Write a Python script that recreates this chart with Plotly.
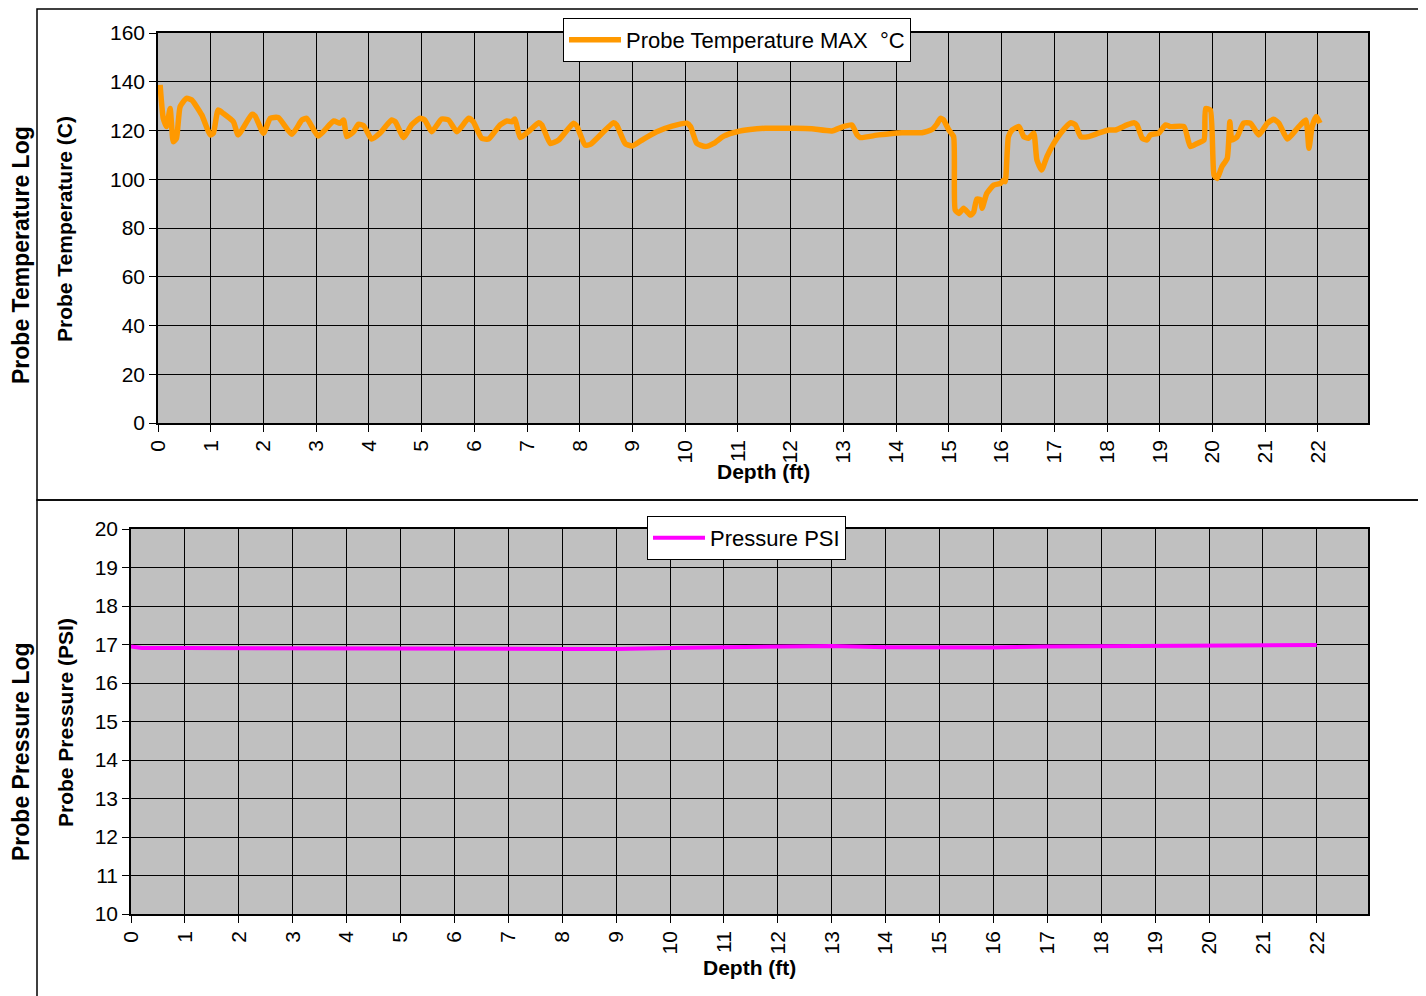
import plotly.graph_objects as go

W, H = 1426, 996
OFF = 8  # page body margin in the browser

# ---------------- data ----------------
temp_depth = [0.04, 0.1, 0.16, 0.23, 0.26, 0.29, 0.35, 0.42, 0.54, 0.64, 0.83, 0.99, 1.05, 1.14, 1.24,
              1.43, 1.52, 1.78, 1.84, 2.0, 2.13, 2.28, 2.54, 2.73, 2.82, 3.04, 3.33, 3.45, 3.52, 3.58,
              3.71, 3.80, 3.9, 4.05, 4.21, 4.43, 4.5, 4.66, 4.81, 4.97, 5.06, 5.19, 5.38, 5.51, 5.67,
              5.89, 5.98, 6.14, 6.27, 6.49, 6.62, 6.71, 6.77, 6.87, 7.06, 7.22, 7.28, 7.44, 7.60, 7.88,
              7.94, 8.10, 8.2, 8.64, 8.70, 8.86, 8.99, 9.21, 9.46, 9.75, 10.03, 10.1, 10.22, 10.38, 10.54,
              10.73, 10.98, 11.23, 11.52, 12.09, 12.40, 12.78, 13.0, 13.16, 13.26, 13.32, 13.67, 14.11,
              14.49, 14.68, 14.77, 14.84, 14.9, 15.0, 15.09, 15.12, 15.19, 15.28, 15.41, 15.47, 15.53,
              15.6, 15.63, 15.72, 15.85, 15.98, 16.04, 16.07, 16.13, 16.2, 16.33, 16.42, 16.51, 16.61,
              16.67, 16.76, 16.86, 16.99, 17.12, 17.31, 17.4, 17.5, 17.65, 17.84, 18.03, 18.16, 18.38,
              18.51, 18.57, 18.67, 18.76, 18.82, 18.98, 19.11, 19.2, 19.46, 19.58, 19.71, 19.84, 19.87,
              19.96, 20.03, 20.09, 20.18, 20.28, 20.33, 20.37, 20.47, 20.59, 20.72, 20.88, 21.04, 21.16,
              21.26, 21.42, 21.61, 21.77, 21.83, 21.89, 21.97, 22.04]
temp_max_c = [138.7, 125, 121.6, 129, 121.5, 115.4, 116.8, 129.8, 133.2, 132.5, 126.4, 118.2, 118.9, 128.4, 127,
              123.6, 118.2, 126.6, 126, 118.9, 125, 125.3, 118.5, 124.3, 125, 117.7, 123.9, 123, 124.3, 117.5,
              119.5, 122.5, 122, 116.5, 118.9, 124.3, 123.6, 117.1, 122.3, 125, 124.3, 119.5, 124.7, 124.3, 119.5,
              125, 123.6, 116.8, 116.5, 122.3, 123.9, 123.6, 124.7, 117.1, 120.2, 123.2, 122.3, 114.7, 116.1, 123,
              122, 114, 114.3, 123.2, 122.3, 114.7, 113.6, 116.5, 119.5, 121.8, 123, 121.6, 114.7, 113.4, 114.7,
              117.7, 119.5, 120.4, 120.9, 120.9, 120.7, 119.8, 121.6, 122.3, 118.2, 117.1, 118.2, 119.1,
              119.1, 120.4, 122.5, 125, 124.3, 120.2, 117.5, 87.4, 86, 88.1, 85.3, 86.5, 91.9,
              91.6, 88.1, 94.2, 97.6, 98.3, 99.7, 99, 117.5, 120.2, 121.6, 117.5, 116.8, 118.9,
              107.9, 103.8, 109.3, 114.7, 118.9, 123.2, 122.3, 117.5, 117.5, 118.9, 120.2, 120.2, 122.3,
              123.2, 122.3, 116.8, 116.1, 118.2, 118.9, 122.3, 121.6, 121.6, 113.4, 114.7, 116.1, 129,
              128.4, 101.7, 100.3, 105.2, 108.6, 123.6, 116.1, 117.5, 123, 123, 118.2, 123, 124.6,
              123, 116.5, 120.9, 124.3, 112.7, 121.6, 125.7, 123]

press_depth = [0, 0.2, 1, 2, 3, 4, 5, 6, 7, 8, 9, 10, 11, 12, 13, 14, 15, 16, 17, 18, 19, 20, 21, 22]
press_psi = [16.95, 16.91, 16.91, 16.91, 16.91, 16.9, 16.9, 16.9, 16.89, 16.88, 16.88, 16.91, 16.93, 16.96,
             16.96, 16.93, 16.92, 16.92, 16.95, 16.96, 16.98, 16.98, 16.98, 16.99]

x_ticks = list(range(0, 23))
temp_ticks = list(range(0, 161, 20))
press_ticks = list(range(10, 21))


def px(x):
    return (x - OFF) / W


def py(y):
    return 1 - (y - OFF) / H


FONT = "Liberation Sans, Arial, sans-serif"
GRID = "#000000"
BG = "#C0C0C0"

fig = go.Figure()
fig.add_trace(go.Scatter(x=temp_depth, y=temp_max_c, mode="lines", name="Probe Temperature MAX  °C",
                         line=dict(color="#FF9900", width=5.5, shape="spline", smoothing=0.5),
                         xaxis="x", yaxis="y", legend="legend"))
fig.add_trace(go.Scatter(x=press_depth, y=press_psi, mode="lines", name="Pressure PSI",
                         line=dict(color="#FF00FF", width=4), xaxis="x2", yaxis="y2", legend="legend2"))

axis_common = dict(showgrid=True, gridcolor=GRID, gridwidth=1, zeroline=False, showline=True,
                   linecolor="#000000", linewidth=1.5, mirror=True, ticks="outside", ticklen=7,
                   tickcolor="#000000", automargin=False,
                   tickfont=dict(family=FONT, size=21, color="#000000"))

fig.update_layout(
    width=W, height=H, margin=dict(l=0, r=0, t=0, b=0, pad=0, autoexpand=False),
    paper_bgcolor="white", plot_bgcolor=BG,
    font=dict(family=FONT, color="#000000"),
    xaxis=dict(domain=[px(158), px(1368)], range=[0, 22.95], tickvals=x_ticks, tickangle=-90,
               anchor="y", **axis_common),
    yaxis=dict(domain=[py(423), py(33)], range=[0, 160], tickvals=temp_ticks, anchor="x", **axis_common),
    xaxis2=dict(domain=[px(131), px(1368)], range=[0, 22.95], tickvals=x_ticks, tickangle=-90,
                anchor="y2", **axis_common),
    yaxis2=dict(domain=[py(914), py(529)], range=[10, 20], tickvals=press_ticks, anchor="x2", **axis_common),
    legend=dict(x=px(563), y=py(18), xanchor="left", yanchor="top", bgcolor="white",
                bordercolor="#000000", borderwidth=1, font=dict(family=FONT, size=22),
                itemwidth=52, tracegroupgap=0),
    legend2=dict(x=px(647), y=py(516), xanchor="left", yanchor="top", bgcolor="white",
                 bordercolor="#000000", borderwidth=1, font=dict(family=FONT, size=22),
                 itemwidth=52, tracegroupgap=0),
    showlegend=True,
)

ann = []


def add_text(text, x, y, size, angle=0, bold=True):
    ann.append(dict(text=f"<b>{text}</b>" if bold else text, x=px(x), y=py(y), xref="paper", yref="paper",
                    showarrow=False, textangle=angle, xanchor="center", yanchor="middle",
                    font=dict(family=FONT, size=size, color="#000000")))


add_text("Probe Temperature Log", 21, 255, 23, -90)
add_text("Probe Temperature (C)", 65, 229, 21, -90)
add_text("Depth (ft)", 763, 471, 21)
add_text("Probe Pressure Log", 21, 752, 23, -90)
add_text("Probe Pressure (PSI)", 65, 723, 21, -90)
add_text("Depth (ft)", 750, 967, 21)
fig.update_layout(annotations=ann)

shapes = [
    dict(type="rect", xref="paper", yref="paper", x0=px(37), x1=px(1422), y0=py(500), y1=py(9),
         line=dict(color="#000000", width=1.5), fillcolor="rgba(0,0,0,0)"),
    dict(type="rect", xref="paper", yref="paper", x0=px(37), x1=px(1422), y0=py(1000), y1=py(500),
         line=dict(color="#000000", width=1.5), fillcolor="rgba(0,0,0,0)"),
]
fig.update_layout(shapes=shapes)

fig.write_html("out.html")
